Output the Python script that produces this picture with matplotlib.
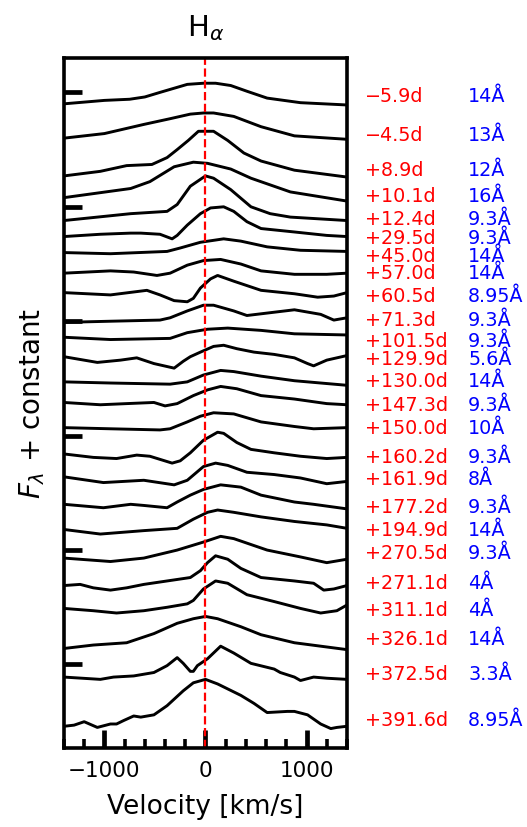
import numpy as np
import matplotlib
matplotlib.use('Agg')
import matplotlib.pyplot as plt
import matplotlib.transforms as mtransforms
from matplotlib.ticker import MultipleLocator

# epochs (red) and spectral resolution (blue), top to bottom
epochs = ['\u22125.9d', '\u22124.5d', '+8.9d', '+10.1d', '+12.4d', '+29.5d', '+45.0d',
          '+57.0d', '+60.5d', '+71.3d', '+101.5d', '+129.9d', '+130.0d', '+147.3d',
          '+150.0d', '+160.2d', '+161.9d', '+177.2d', '+194.9d', '+270.5d', '+271.1d',
          '+311.1d', '+326.1d', '+372.5d', '+391.6d']
resolutions = ['14Å', '13Å', '12Å', '16Å', '9.3Å', '9.3Å', '14Å', '14Å', '8.95Å', '9.3Å',
               '9.3Å', '5.6Å', '14Å', '9.3Å', '10Å', '9.3Å', '8Å', '9.3Å', '14Å', '9.3Å',
               '4Å', '4Å', '14Å', '3.3Å', '8.95Å']
label_y = [4.96, 4.62, 4.32, 4.09, 3.89, 3.72, 3.57, 3.42, 3.22, 3.01, 2.82, 2.665, 2.47,
           2.26, 2.06, 1.81, 1.62, 1.37, 1.17, 0.97, 0.71, 0.47, 0.22, -0.09, -0.49]

# vertical shift of each spectrum
offsets = [4.90, 4.60, 4.27, 4.08, 3.88, 3.74, 3.60, 3.42, 3.25, 2.99, 2.86, 2.69, 2.47,
           2.29, 2.07, 1.84, 1.64, 1.40, 1.18, 0.93, 0.69, 0.49, 0.14, -0.11, -0.54]

# velocity (km/s) and normalised flux of each H-alpha profile
vel = [
    [-1400, -1000, -750, -600, -450, -180, -20, 100, 250, 410, 610, 940, 1400],
    [-1400, -1000, -610, -350, -150, -20, 80, 280, 550, 880, 1400],
    [-1400, -1040, -780, -530, -380, -280, -170, -70, 80, 220, 380, 550, 880, 1400],
    [-1400, -740, -550, -310, -120, 20, 250, 450, 840, 1400],
    [-1400, -740, -380, -280, -150, 0, 80, 250, 450, 640, 840, 1400],
    [-1400, -1040, -740, -640, -450, -330, -280, -180, -50, 50, 180, 280, 410, 550, 880, 1200, 1400],
    [-1400, -940, -380, -250, -50, 180, 350, 610, 940, 1400],
    [-1400, -940, -710, -480, -350, -180, -20, 150, 350, 550, 880, 1200, 1400],
    [-1400, -940, -580, -450, -310, -180, -120, -50, 50, 120, 280, 550, 880, 1110, 1270, 1400],
    [-1400, -940, -450, -350, -180, -20, 80, 280, 410, 880, 1140, 1270, 1400],
    [-1400, -940, -350, -180, 20, 220, 550, 880, 1400],
    [-1400, -1070, -840, -680, -510, -310, -220, -150, -50, 80, 180, 310, 480, 680, 880, 1010, 1070, 1200, 1400],
    [-1400, -940, -350, -180, -20, 150, 280, 550, 880, 1400],
    [-1400, -1040, -780, -510, -400, -280, -120, 20, 150, 310, 550, 880, 1200, 1400],
    [-1400, -940, -450, -350, -180, -50, 80, 280, 550, 880, 1070, 1400],
    [-1400, -1110, -880, -680, -550, -330, -250, -150, -20, 120, 180, 310, 450, 680, 940, 1200, 1400],
    [-1400, -1010, -610, -310, -180, -20, 100, 220, 410, 680, 940, 1200, 1400],
    [-1400, -1010, -740, -610, -380, -280, -150, -20, 150, 350, 550, 880, 1070, 1400],
    [-1400, -1040, -610, -280, -120, 20, 120, 280, 550, 880, 1200, 1400],
    [-1400, -940, -610, -280, -20, 150, 280, 610, 940, 1200, 1400],
    [-1400, -1240, -1110, -940, -780, -610, -380, -150, -50, 20, 100, 220, 350, 550, 880, 1070, 1170, 1270, 1400],
    [-1400, -1110, -880, -610, -380, -180, -120, -20, 100, 220, 410, 680, 940, 1140, 1300, 1400],
    [-1400, -1110, -780, -510, -280, -120, 0, 120, 350, 550, 880, 1400],
    [-1400, -1040, -910, -710, -510, -380, -280, -220, -150, -120, -80, 20, 150, 280, 450, 680, 740, 880, 940, 1070, 1200, 1400],
    [-1400, -1300, -1200, -1070, -940, -880, -810, -710, -640, -510, -380, -220, -120, 0, 120, 350, 480, 610, 810, 880, 1010, 1140, 1240, 1300, 1400],
]
flux = [
    [0, 0.03, 0.04, 0.06, 0.10, 0.17, 0.18, 0.18, 0.16, 0.11, 0.05, 0.01, -0.01],
    [0, 0.04, 0.12, 0.17, 0.21, 0.22, 0.22, 0.19, 0.10, 0.02, -0.01],
    [0, 0.04, 0.09, 0.10, 0.16, 0.23, 0.31, 0.39, 0.39, 0.31, 0.20, 0.13, 0.05, -0.01],
    [0, 0.08, 0.14, 0.27, 0.31, 0.30, 0.25, 0.17, 0.05, -0.03],
    [0, 0.06, 0.08, 0.14, 0.30, 0.39, 0.37, 0.27, 0.12, 0.06, 0.03, 0],
    [0, 0.02, 0.03, 0.03, 0.02, -0.02, 0.01, 0.10, 0.20, 0.25, 0.26, 0.22, 0.13, 0.07, 0.04, 0.01, 0],
    [0, -0.01, 0.01, 0.04, 0.09, 0.12, 0.10, 0.05, 0.02, 0.01],
    [0, 0.02, 0.01, -0.02, 0, 0.07, 0.11, 0.12, 0.08, 0.02, -0.01, -0.01, 0],
    [0, -0.02, 0.02, -0.02, -0.07, -0.08, -0.05, 0.04, 0.12, 0.15, 0.10, 0.02, -0.01, -0.04, -0.03, 0],
    [0, 0.01, 0.02, 0.04, 0.10, 0.15, 0.15, 0.10, 0.06, 0.11, 0.07, 0.02, 0.04],
    [0, -0.02, -0.01, 0.04, 0.07, 0.08, 0.06, 0.03, 0.02],
    [0, -0.05, -0.03, -0.01, -0.06, -0.10, -0.04, 0, 0.04, 0.09, 0.10, 0.07, 0.04, 0.02, -0.01, -0.06, -0.08, -0.03, 0.01],
    [0, -0.01, -0.02, 0, 0.06, 0.10, 0.09, 0.05, 0.01, -0.03],
    [0, -0.02, -0.01, 0, -0.03, -0.01, 0.06, 0.11, 0.14, 0.12, 0.06, 0.03, -0.01, -0.02],
    [0, -0.01, -0.02, -0.01, 0.05, 0.10, 0.13, 0.12, 0.05, 0.01, -0.01, 0],
    [0, -0.03, -0.04, -0.01, -0.02, -0.08, -0.06, 0.01, 0.12, 0.19, 0.18, 0.10, 0.04, 0.01, -0.02, -0.04, -0.03],
    [0, -0.05, -0.03, -0.07, -0.03, 0.09, 0.12, 0.10, 0.04, 0.02, -0.01, -0.06, -0.04],
    [0, -0.03, 0, -0.01, -0.03, 0.02, 0.08, 0.13, 0.17, 0.15, 0.08, 0.02, 0, -0.04],
    [0, -0.04, -0.01, 0.01, 0.09, 0.15, 0.17, 0.15, 0.11, 0.07, 0.04, 0.01],
    [0, -0.03, 0, 0.07, 0.14, 0.19, 0.17, 0.07, 0.01, -0.04, -0.01],
    [0, 0.01, -0.02, -0.04, -0.02, 0.01, 0.04, 0.07, 0.13, 0.20, 0.26, 0.23, 0.15, 0.07, 0.04, 0.02, -0.04, -0.03, 0],
    [0, -0.02, -0.04, -0.02, 0.01, 0.04, 0.07, 0.17, 0.24, 0.22, 0.12, 0.06, 0, -0.04, -0.02, 0.03],
    [0, 0.03, 0.05, 0.13, 0.22, 0.26, 0.28, 0.26, 0.19, 0.12, 0.05, -0.01],
    [0, -0.02, 0, 0.01, 0.04, 0.10, 0.17, 0.12, 0.05, 0.05, 0.10, 0.16, 0.27, 0.21, 0.12, 0.07, 0.04, 0, -0.03, 0, -0.01, -0.02],
    [0, 0.01, 0.04, -0.01, 0.02, 0.02, 0.05, 0.09, 0.08, 0.10, 0.18, 0.31, 0.38, 0.41, 0.37, 0.27, 0.20, 0.12, 0.13, 0.13, 0.10, 0.02, -0.02, -0.01, 0],
]

fig = plt.figure(figsize=(5.27, 8.27), dpi=100)
ax = fig.add_axes([0.1214, 0.0955, 0.537, 0.8343])

for v, f, off in zip(vel, flux, offsets):
    ax.plot(v, np.array(f) + off, color='black', lw=2.1, solid_joinstyle='round')

ax.axvline(0, color='red', ls='--', lw=1.6)

ax.set_xlim(-1400, 1400)
ax.set_ylim(-0.73, 5.30)

trans = mtransforms.blended_transform_factory(ax.transAxes, ax.transData)
for ep, res, y in zip(epochs, resolutions, label_y):
    ax.text(1.062, y, ep, color='red', fontsize=13.8, va='center', ha='left',
            transform=trans, clip_on=False)
    ax.text(1.428, y, res, color='blue', fontsize=13.8, va='center', ha='left',
            transform=trans, clip_on=False)

ax.xaxis.set_major_locator(MultipleLocator(1000))
ax.xaxis.set_minor_locator(MultipleLocator(200))
ax.yaxis.set_major_locator(MultipleLocator(1))
ax.tick_params(axis='x', which='major', direction='in', length=13, width=3.4,
               labelsize=15.5, pad=9, top=False)
ax.tick_params(axis='x', which='minor', direction='in', length=6.5, width=2.6, top=False)
ax.tick_params(axis='y', which='major', direction='in', length=13, width=3.4,
               labelleft=False, right=False)
for s in ax.spines.values():
    s.set_linewidth(2.6)

ax.set_xlabel('Velocity [km/s]', fontsize=19, labelpad=10)
ax.set_ylabel(r'$F_\lambda$ + constant', fontsize=20, labelpad=12)
ax.set_title(r'H$_\alpha$', fontsize=21, pad=16)

fig.savefig('out.png', dpi=100)
